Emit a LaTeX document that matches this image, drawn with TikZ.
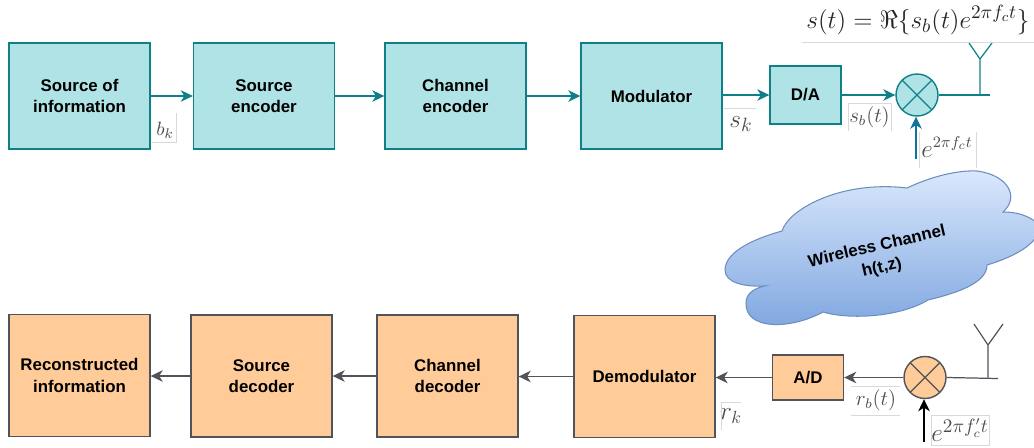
\documentclass[tikz,border=0pt]{standalone}
\usepackage{amsmath, amssymb}
\usepackage{fontspec}
\setmainfont{Liberation Sans}
\usepackage{tikz}
\usetikzlibrary{arrows.meta, calc}
\usepackage{xcolor}
\definecolor{tealfill}{HTML}{B0E3E6}
\definecolor{tealline}{HTML}{0E8088}
\definecolor{orangefill}{HTML}{FFCC99}
\definecolor{darkline}{HTML}{50535A}
\definecolor{cloudtop}{HTML}{DAE8FC}
\definecolor{cloudlow}{HTML}{7EA6E0}
\definecolor{cloudline}{HTML}{6C8EBF}
\definecolor{carrier}{HTML}{10739E}

\begin{document}
\begin{tikzpicture}[
    x=0.02cm, y=-0.02cm,
    txblock/.style={rectangle, draw=tealline, fill=tealfill, line width=0.8pt, minimum width=2.82cm, minimum height=2.12cm, align=center, font=\fontsize{9.6}{12.3}\selectfont\bfseries, inner sep=0pt},
    rxblock/.style={txblock, draw=darkline, fill=orangefill, minimum height=2.44cm},
    txsmall/.style={txblock, minimum width=1.42cm, minimum height=1.16cm},
    rxsmall/.style={rxblock, minimum width=1.42cm, minimum height=0.9cm},
    txmixer/.style={circle, draw=tealline, fill=tealfill, line width=0.8pt, minimum size=0.84cm, inner sep=0pt, path picture={\draw[tealline, line width=0.7pt] (path picture bounding box.north west) -- (path picture bounding box.south east) (path picture bounding box.north east) -- (path picture bounding box.south west);}},
    rxmixer/.style={txmixer, draw=darkline, fill=orangefill, path picture={\draw[darkline, line width=0.7pt] (path picture bounding box.north west) -- (path picture bounding box.south east) (path picture bounding box.north east) -- (path picture bounding box.south west);}},
    tip/.style={-{Stealth[length=0.24cm, width=0.23cm, inset=0.07cm]}},
    txarrow/.style={tip, tealline, line width=0.8pt},
    rxarrow/.style={tip, darkline, line width=0.8pt},
    txwire/.style={tealline, line width=0.7pt},
    rxwire/.style={darkline, line width=0.7pt},
    mathlabel/.style={text=black!70, inner sep=1pt},
    scrap/.style={black!15, line width=0.5pt}
]
    \useasboundingbox (0,0) rectangle (1034,447);

    % Transmitter chain
    \node[txblock] (source) at (79.5,96) {Source of\\information};
    \node[txblock] (srcenc) at (264,96) {Source\\encoder};
    \node[txblock] (chenc) at (455.5,96) {Channel\\encoder};
    \node[txblock] (mod) at (651.5,96) {Modulator};
    \node[txsmall] (dac) at (805.5,95) {D/A};
    \node[txmixer] (mixtx) at (917,95) {};

    % Receiver chain
    \node[rxblock] (recon) at (79.5,375.5) {Reconstructed\\information};
    \node[rxblock] (srcdec) at (261.5,376) {Source\\decoder};
    \node[rxblock] (chdec) at (447.5,376) {Channel\\decoder};
    \node[rxblock] (demod) at (644.5,376.5) {Demodulator};
    \node[rxsmall] (adc) at (808,377.5) {A/D};
    \node[rxmixer] (mixrx) at (925,377.5) {};

    % Cloud
    \begin{scope}
        \clip (0,0) rectangle (1034,447);
        \draw[cloudline, line width=0.6pt, top color=cloudtop, bottom color=cloudlow]
            (782,231) .. controls (788,210) and (840,180) .. (907,188)
            .. controls (930,177) and (957,170) .. (977,171)
            .. controls (1008,175) and (1020,197) .. (1003,212)
            .. controls (1017,212) and (1028,215) .. (1040,225)
            .. controls (1040,245) and (1010,258) .. (987,265)
            .. controls (987,283) and (957,293) .. (928,300)
            .. controls (900,317) and (850,320) .. (823,312)
            .. controls (790,330) and (745,330) .. (746,303)
            .. controls (746,293) and (755,288) .. (765,286)
            .. controls (745,287) and (725,283) .. (725,270)
            .. controls (725,250) and (760,237) .. (782,231) -- cycle;
    \end{scope}
    \node[font=\fontsize{9.6}{12.3}\selectfont\bfseries, align=center, rotate=13, inner sep=0pt] (channel) at (879.5,257.5) {Wireless Channel\\h(t,z)};

    % Arrows
    \draw[txarrow] (source) -- (srcenc);
    \draw[txarrow] (srcenc) -- (chenc);
    \draw[txarrow] (chenc) -- (mod);
    \draw[txarrow] (mod.east |- dac) -- (dac);
    \draw[txarrow] (dac) -- (mixtx);
    \coordinate (carriertx) at (916,159);
    \draw[tip, carrier, line width=1pt] (carriertx) -- (mixtx.south -| carriertx);
    \draw[rxarrow] (demod.west |- demod) -- (chdec.east |- demod);
    \draw[rxarrow] (chdec.west) -- (srcdec.east);
    \draw[rxarrow] (srcdec.west) -- (recon.east |- srcdec);
    \draw[rxarrow] (adc) -- (demod.east |- adc);
    \draw[rxarrow] (mixrx) -- (adc);
    \coordinate (carrierrx) at (924,442);
    \draw[tip, black, line width=1pt] (carrierrx) -- (mixrx.south -| carrierrx);

    % Antennas
    \coordinate (anttx) at (980,95);
    \coordinate (feedtx) at (980,59);
    \coordinate (stubtx) at (990,95);
    \draw[txwire] (mixtx.east) -- (stubtx);
    \draw[txwire] (anttx) -- (feedtx) -- (969,43) (feedtx) -- (992,43);
    \coordinate (antrx) at (988,377.5);
    \coordinate (feedrx) at (988,345);
    \coordinate (stubrx) at (998,378.5);
    \draw[rxwire] (mixrx.east) -- (stubrx);
    \draw[rxwire] (antrx) -- (feedrx) -- (974,324) (feedrx) -- (1003,324);

    % Labels
    \node[mathlabel, text=black!85] (sform) at (918,20) {\fontsize{15.5}{18}\selectfont $s(t)=\Re\{s_b(t)e^{2\pi f_c t}\}$};
    \node[mathlabel] (bk) at (165,130) {\fontsize{11}{13}\selectfont $b_k$};
    \node[mathlabel] (sk) at (741,124) {\fontsize{15}{18}\selectfont $s_k$};
    \node[mathlabel] (sbt) at (869.5,117) {\fontsize{11.5}{14}\selectfont $s_b(t)$};
    \node[mathlabel] (carlabtx) at (947,147) {\fontsize{13.5}{16}\selectfont $e^{2\pi f_c t}$};
    \node[mathlabel] (rk) at (731,416) {\fontsize{14}{17}\selectfont $r_k$};
    \node[mathlabel] (rbt) at (876,400) {\fontsize{12}{14}\selectfont $r_b(t)$};
    \node[mathlabel] (carlabrx) at (960,430) {\fontsize{15}{18}\selectfont $e^{2\pi f'_c t}$};

    % Faint edges round the labels
    \draw[scrap] (802,42) -- (1034,42);
    \draw[scrap] (176,113) -- (176,142) -- (152,142);
    \draw[scrap] (724,108) -- (756,108);
    \draw[scrap] (848,131) -- (848,103) -- (891,103) -- (891,131);
    \draw[scrap] (919,132) -- (919,168) (976,132) -- (976,168);
    \draw[scrap] (851,386) -- (900,386) (851,415) -- (900,415);
    \draw[scrap] (721,430) -- (721,402) -- (741,402);
    \draw[scrap] (931,445) -- (931,415) -- (989,415) -- (989,445) -- cycle;
\end{tikzpicture}
\end{document}
